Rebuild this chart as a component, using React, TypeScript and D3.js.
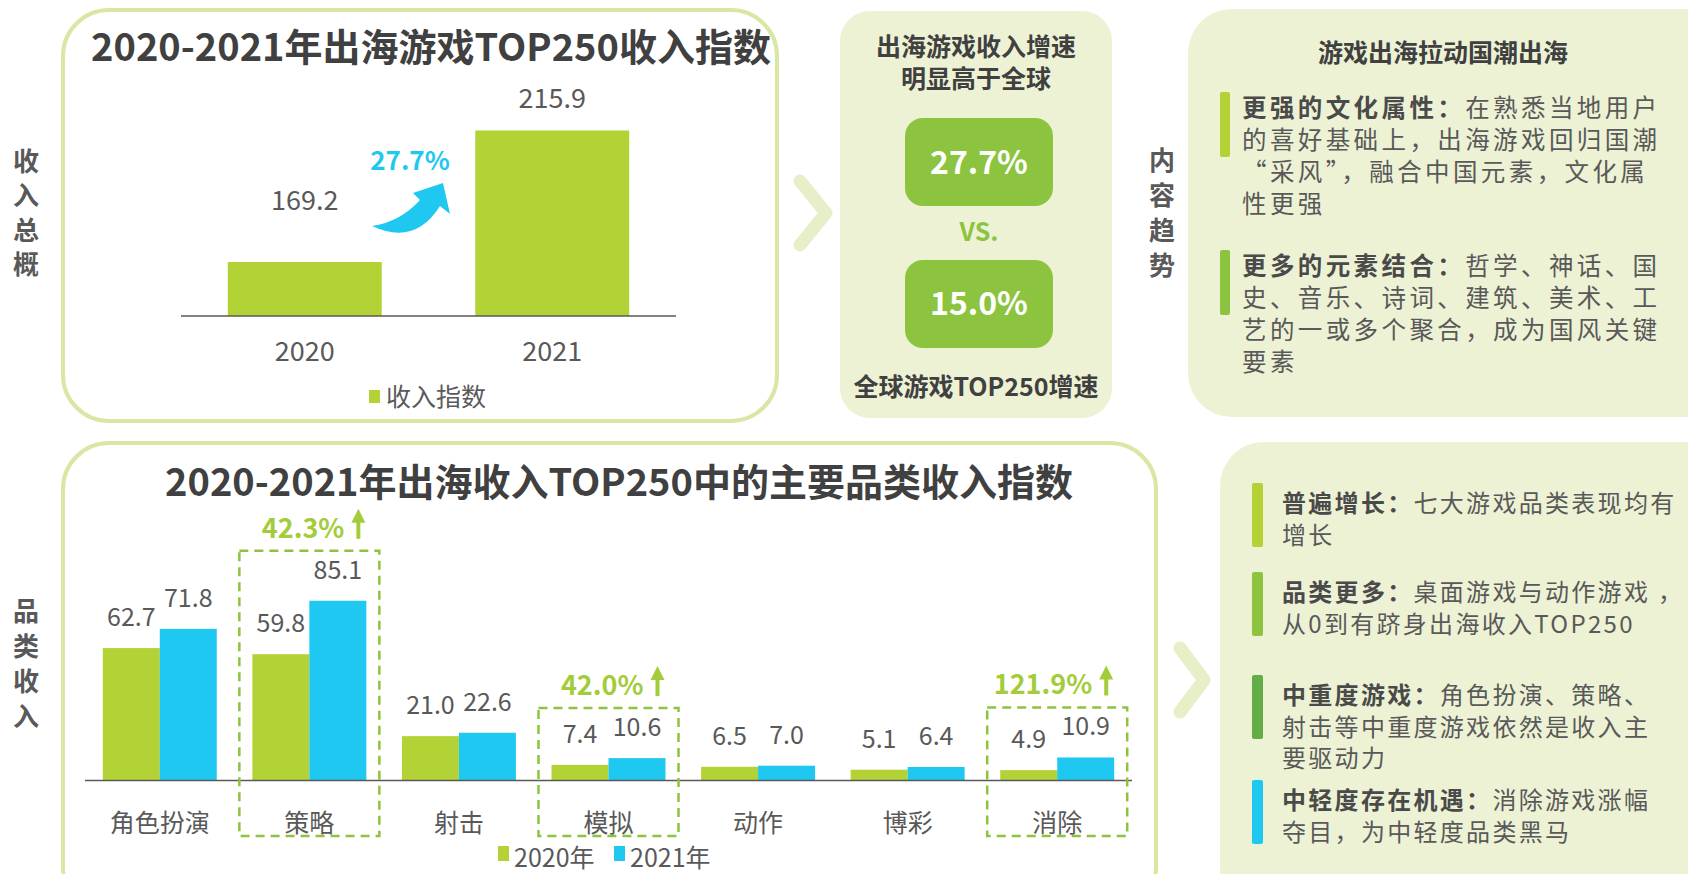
import React from 'react';
import * as d3 from 'd3';

const FONT = '"Noto Sans CJK SC", "Noto Sans", sans-serif';
const LIME = '#b2d235';
const GREEN = '#8cc43f';
const DKGREEN = '#62ad45';
const CYAN = '#1ec8f0';
const TEXT = '#595959';
const DARK = '#404040';
const BORDER = '#d8e8a4';
const PANEL = '#edf2d5';
const CHEVRON = '#e6efc8';
const GROWTH = '#a3cc3a';

// ---- data: overall revenue index ----
const years = ['2020', '2021'];
const totalIndex = [169.2, 215.9];
const totalGrowth = '27.7%';
const globalGrowth = '15.0%';
const totalLegend = '收入指数';

// ---- data: revenue index by category ----
const categories = ['角色扮演', '策略', '射击', '模拟', '动作', '博彩', '消除'];
const index2020 = [62.7, 59.8, 21.0, 7.4, 6.5, 5.1, 4.9];
const index2021 = [71.8, 85.1, 22.6, 10.6, 7.0, 6.4, 10.9];
const seriesNames = ['2020年', '2021年'];
const seriesColors = [LIME, CYAN];
const highlightCats = ['策略', '模拟', '消除'];
const highlightGrowth = ['42.3%', '42.0%', '121.9%'];

// ---- text panels ----
const trendTitle = '游戏出海拉动国潮出海';
const trendBold = ['更强的文化属性：', '更多的元素结合：'];
const trendLines = [
  ['在熟悉当地用户', '的喜好基础上，出海游戏回归国潮', '“采风”，融合中国元素，文化属', '性更强'],
  ['哲学、神话、国', '史、音乐、诗词、建筑、美术、工', '艺的一或多个聚合，成为国风关键', '要素'],
];
const trendColors = [LIME, GREEN];

const catBold = ['普遍增长：', '品类更多：', '中重度游戏：', '中轻度存在机遇：'];
const catLines = [
  ['七大游戏品类表现均有', '增长'],
  ['桌面游戏与动作游戏 ，', '从0到有跻身出海收入TOP250'],
  ['角色扮演、策略、', '射击等中重度游戏依然是收入主', '要驱动力'],
  ['消除游戏涨幅', '夺目，为中轻度品类黑马'],
];
const catColors = [LIME, GREEN, DKGREEN, CYAN];

const fmt = d3.format('.1f');

// layout constants
const L = {
  top: { axisX: [181, 676], base: 316, topY: 34.5, labelGap: [52, 22] },
  bot: { axisX: [85, 1132], base: 780.5, topY: 569.3 },
};

function VLabel({ chars, x, ys }: { chars: string; x: number; ys: number[] }) {
  return (
    <g>
      {chars.split('').map((c, i) => (
        <text key={i} x={x} y={ys[i] + 9} textAnchor="middle" fontSize={26} fontWeight={700} fill={TEXT}>
          {c}
        </text>
      ))}
    </g>
  );
}

function Chevron({ x0, x1, y0, y1 }: { x0: number; x1: number; y0: number; y1: number }) {
  return (
    <path
      d={`M${x0},${y0} L${x1},${(y0 + y1) / 2} L${x0},${y1}`}
      fill="none"
      stroke={CHEVRON}
      strokeWidth={13}
      strokeLinecap="round"
      strokeLinejoin="round"
    />
  );
}

export default function App() {
  // top chart scales
  const xT = d3.scaleBand<string>().domain(years).range(L.top.axisX as [number, number]).paddingInner(0.378).paddingOuter(0.189);
  const yT = d3.scaleLinear().domain([150, 250]).range([L.top.base, L.top.topY]);

  // bottom chart scales
  const xB = d3.scaleBand<string>().domain(categories).range(L.bot.axisX as [number, number]).paddingInner(0.238).paddingOuter(0.119);
  const xS = d3.scaleBand<string>().domain(seriesNames).range([0, xB.bandwidth()]);
  const yB = d3.scaleLinear().domain([0, 100]).range([L.bot.base, L.bot.topY]);
  const seriesData = [index2020, index2021];

  return (
    <svg
      width={1688}
      height={874}
      style={{ position: 'absolute', left: 0, top: 0, background: '#fff' }}
      fontFamily={FONT}
    >
      <rect x={0} y={0} width={1688} height={874} fill="#fff" />

      {/* side labels */}
      <VLabel chars="收入总概" x={26} ys={[162, 196, 231, 265]} />
      <VLabel chars="品类收入" x={26} ys={[612, 647, 682, 717]} />
      <VLabel chars="内容趋势" x={1162} ys={[161, 196, 231, 266]} />

      {/* ===== top-left box ===== */}
      <rect x={63} y={10} width={714} height={411} rx={46} fill="#fff" stroke={BORDER} strokeWidth={4} />
      <text x={431} y={61} textAnchor="middle" fontSize={38} fontWeight={700} fill={DARK}>
        2020-2021年出海游戏TOP250收入指数
      </text>
      {years.map((yr, i) => (
        <g key={yr}>
          <rect
            x={xT(yr)!}
            y={yT(totalIndex[i])}
            width={xT.bandwidth()}
            height={L.top.base - yT(totalIndex[i])}
            fill={LIME}
          />
          <text
            x={xT(yr)! + xT.bandwidth() / 2}
            y={yT(totalIndex[i]) - L.top.labelGap[i]}
            textAnchor="middle"
            fontSize={27}
            fill={TEXT}
          >
            {fmt(totalIndex[i])}
          </text>
          <text x={xT(yr)! + xT.bandwidth() / 2} y={361} textAnchor="middle" fontSize={27} fill={TEXT}>
            {yr}
          </text>
        </g>
      ))}
      <line x1={L.top.axisX[0]} x2={L.top.axisX[1]} y1={L.top.base} y2={L.top.base} stroke="#595959" strokeWidth={1.5} />
      <rect x={369} y={390} width={11} height={13} fill={LIME} />
      <text x={386} y={406} fontSize={25} fill={TEXT}>{totalLegend}</text>
      {/* growth arrow */}
      <path
        d="M372,226 Q400,222 420,200 L413,193 L443,183 L450,214 L440,206 Q415,246 372,226 Z"
        fill={CYAN}
      />
      <text x={410} y={170} textAnchor="middle" fontSize={26} fontWeight={700} fill={CYAN}>
        {totalGrowth}
      </text>

      <Chevron x0={800} x1={826} y0={181} y1={245} />

      {/* ===== middle box ===== */}
      <rect x={840} y={11} width={272} height={407} rx={30} fill={PANEL} />
      <text x={976} y={56} textAnchor="middle" fontSize={25} fontWeight={700} fill={DARK}>出海游戏收入增速</text>
      <text x={976} y={88} textAnchor="middle" fontSize={25} fontWeight={700} fill={DARK}>明显高于全球</text>
      <rect x={905} y={118} width={148} height={88} rx={18} fill={GREEN} />
      <text x={979} y={174} textAnchor="middle" fontSize={32} fontWeight={700} fill="#fff">{totalGrowth}</text>
      <text x={979} y={241} textAnchor="middle" fontSize={25} fontWeight={700} fill={GREEN}>VS.</text>
      <rect x={905} y={260} width={148} height={88} rx={18} fill={GREEN} />
      <text x={979} y={315} textAnchor="middle" fontSize={32} fontWeight={700} fill="#fff">{globalGrowth}</text>
      <text x={976} y={396} textAnchor="middle" fontSize={25} fontWeight={700} fill={DARK}>全球游戏TOP250增速</text>

      {/* ===== top-right box ===== */}
      <rect x={1188} y={9} width={560} height={408} rx={44} fill={PANEL} />
      <text x={1443} y={62} textAnchor="middle" fontSize={25} fontWeight={700} fill={DARK}>{trendTitle}</text>
      {trendLines.map((lines, bi) => {
        const y0 = [108, 266][bi];
        return (
          <g key={bi}>
            <rect x={1220} y={y0 - 16} width={10} height={65} rx={2} fill={trendColors[bi]} />
            {lines.map((ln, li) => (
              <text key={li} x={1242} y={y0 + li * 32 + 9} fontSize={24.5} letterSpacing={3.4} fill={TEXT}>
                {li === 0 && (
                  <tspan fontWeight={700} fill="#4a4a4a">{trendBold[bi]}</tspan>
                )}
                <tspan>{ln}</tspan>
              </text>
            ))}
          </g>
        );
      })}

      {/* ===== bottom-left box ===== */}
      <rect x={63} y={443} width={1093} height={470} rx={46} fill="#fff" stroke={BORDER} strokeWidth={4} />
      <text x={619} y={496} textAnchor="middle" fontSize={38} fontWeight={700} fill={DARK}>
        2020-2021年出海收入TOP250中的主要品类收入指数
      </text>

      {categories.map((cat, ci) => (
        <g key={cat}>
          {seriesNames.map((s, si) => {
            const v = seriesData[si][ci];
            const x = xB(cat)! + xS(s)!;
            return (
              <g key={s}>
                <rect x={x} y={yB(v)} width={xS.bandwidth()} height={L.bot.base - yB(v)} fill={seriesColors[si]} />
                <text x={x + xS.bandwidth() / 2} y={yB(v) - 22} textAnchor="middle" fontSize={25} fill={TEXT}>
                  {fmt(v)}
                </text>
              </g>
            );
          })}
          <text x={xB(cat)! + xB.bandwidth() / 2} y={832} textAnchor="middle" fontSize={25} fill={TEXT}>
            {cat}
          </text>
        </g>
      ))}
      <line x1={L.bot.axisX[0]} x2={L.bot.axisX[1]} y1={L.bot.base} y2={L.bot.base} stroke="#595959" strokeWidth={1.5} />

      {highlightCats.map((cat, hi) => {
        const ci = categories.indexOf(cat);
        const cx = xB(cat)! + xB.bandwidth() / 2;
        const top = yB(Math.max(index2020[ci], index2021[ci])) - 50;
        const left = cx - 70;
        const right = cx + 70;
        const bottom = 836;
        const ax = right - 21;
        return (
          <g key={cat}>
            <rect
              x={left}
              y={top}
              width={right - left}
              height={bottom - top}
              fill="none"
              stroke={GREEN}
              strokeWidth={2.5}
              strokeDasharray="9 6"
            />
            <text x={right - 35} y={top - 13} textAnchor="end" fontSize={27} fontWeight={700} fill={GROWTH}>
              {highlightGrowth[hi]}
            </text>
            <line x1={ax} x2={ax} y1={top - 12} y2={top - 30} stroke={GROWTH} strokeWidth={4} />
            <path d={`M${ax},${top - 42} L${ax - 7},${top - 28} L${ax + 7},${top - 28} Z`} fill={GROWTH} />
          </g>
        );
      })}

      {/* legend */}
      {seriesNames.map((s, si) => {
        const lx = [498, 614][si];
        return (
          <g key={s}>
            <rect x={lx} y={846} width={11} height={15} fill={seriesColors[si]} />
            <text x={lx + 16} y={867} fontSize={25} fill={TEXT}>{s}</text>
          </g>
        );
      })}

      <Chevron x0={1180} x1={1204} y0={648} y1={712} />

      {/* ===== bottom-right box ===== */}
      <rect x={1220} y={442} width={540} height={470} rx={44} fill={PANEL} />
      {catLines.map((lines, bi) => {
        const y0 = [503, 592, 695, 800][bi];
        return (
          <g key={bi}>
            <rect x={1252} y={y0 - 20} width={11} height={64} rx={2} fill={catColors[bi]} />
            {lines.map((ln, li) => (
              <text key={li} x={1282} y={y0 + li * 31.5 + 9} fontSize={24} letterSpacing={2.3} fill={TEXT}>
                {li === 0 && (
                  <tspan fontWeight={700} fill="#4a4a4a">{catBold[bi]}</tspan>
                )}
                <tspan>{ln}</tspan>
              </text>
            ))}
          </g>
        );
      })}
    </svg>
  );
}
